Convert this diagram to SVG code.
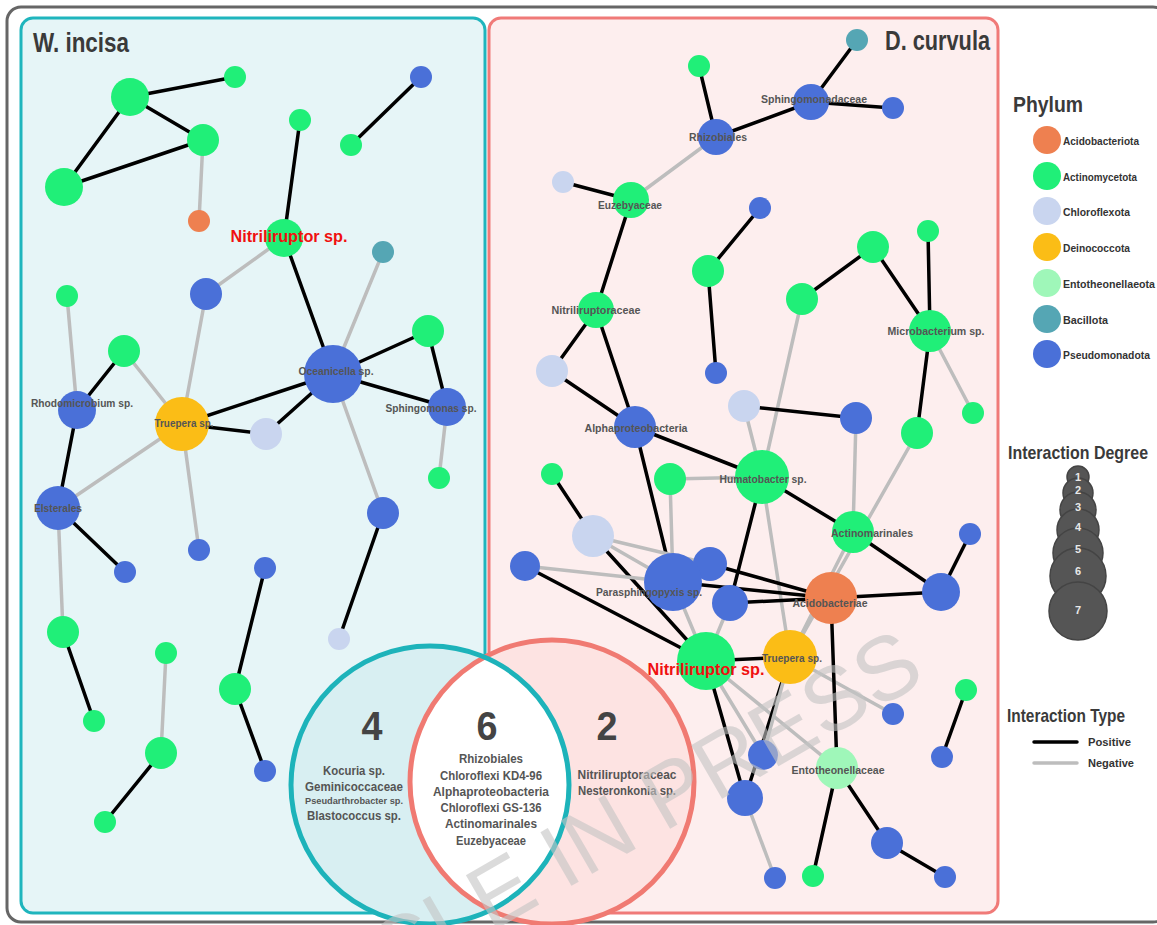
<svg xmlns="http://www.w3.org/2000/svg" width="1157" height="925" viewBox="0 0 1157 925">
<defs>
<style>
.pos{stroke:#000;stroke-width:3.5;stroke-linecap:round}
.neg{stroke:#bdbdbd;stroke-width:3.5;stroke-linecap:round}
.G{fill:#20ef78}.B{fill:#4a70d8}.O{fill:#ee8050}.Y{fill:#fbbd16}.C{fill:#c9d5ef}.E{fill:#9ff7b9}.T{fill:#55a6b4}
text{font-family:"Liberation Sans Narrow","Liberation Sans",Arial,sans-serif;font-weight:bold}
.lbl{font-size:11px;fill:#555;text-anchor:middle;dominant-baseline:central}
.red{font-size:16px;fill:#f01010;text-anchor:middle;dominant-baseline:central}
.title{font-size:28px;fill:#3a3a3a}
.leg{font-size:10.5px;fill:#333;dominant-baseline:central}
.head{font-size:19px;fill:#3a3a3a}
.num{font-size:40px;fill:#444;text-anchor:middle}
.vt{font-size:12.5px;fill:#555;text-anchor:middle;dominant-baseline:central}
.deg{fill:#555;stroke:#444;stroke-width:1.5}
.dn{font-size:11px;fill:#e8e8e8;text-anchor:middle;dominant-baseline:central}
.wm{font-family:"Liberation Sans",Arial,sans-serif;font-weight:normal;font-size:90px;fill:#c4c4c4;opacity:0.6}
</style>
<clipPath id="tealClip"><circle cx="430" cy="785" r="139"/></clipPath>
</defs>
<rect x="7" y="7" width="1160" height="915" rx="14" fill="#fff" stroke="#666" stroke-width="3"/>
<rect id="panel-w" x="21" y="18" width="464" height="895" rx="12" fill="#e6f5f7" stroke="#1fb5bd" stroke-width="3"/>
<rect id="panel-d" x="489" y="18" width="509" height="895" rx="12" fill="#fdeeee" stroke="#f07a78" stroke-width="3"/>
<text class="title" x="33" y="52" textLength="96" lengthAdjust="spacingAndGlyphs">W. incisa</text>
<text class="title" x="990" y="50" text-anchor="end" textLength="105" lengthAdjust="spacingAndGlyphs">D. curvula</text>

<g id="connectors">
<line class="pos" x1="130" y1="97" x2="235" y2="77"/>
<line class="pos" x1="130" y1="97" x2="203" y2="140"/>
<line class="pos" x1="130" y1="97" x2="64" y2="187"/>
<line class="pos" x1="203" y1="140" x2="64" y2="187"/>
<line class="neg" x1="203" y1="140" x2="199" y2="221"/>
<line class="pos" x1="300" y1="120" x2="284" y2="238"/>
<line class="pos" x1="351" y1="145" x2="421" y2="77"/>
<line class="pos" x1="284" y1="238" x2="333" y2="374"/>
<line class="neg" x1="284" y1="238" x2="206" y2="294"/>
<line class="neg" x1="383" y1="252" x2="333" y2="374"/>
<line class="pos" x1="333" y1="374" x2="428" y2="331"/>
<line class="pos" x1="333" y1="374" x2="447" y2="407"/>
<line class="pos" x1="428" y1="331" x2="447" y2="407"/>
<line class="neg" x1="447" y1="407" x2="439" y2="478"/>
<line class="pos" x1="333" y1="374" x2="182" y2="424"/>
<line class="pos" x1="333" y1="374" x2="266" y2="434"/>
<line class="pos" x1="182" y1="424" x2="266" y2="434"/>
<line class="neg" x1="333" y1="374" x2="383" y2="513"/>
<line class="pos" x1="383" y1="513" x2="339" y2="639"/>
<line class="neg" x1="182" y1="424" x2="206" y2="294"/>
<line class="neg" x1="182" y1="424" x2="124" y2="351"/>
<line class="neg" x1="182" y1="424" x2="58" y2="508"/>
<line class="neg" x1="182" y1="424" x2="199" y2="550"/>
<line class="pos" x1="77" y1="410" x2="124" y2="351"/>
<line class="neg" x1="77" y1="410" x2="67" y2="296"/>
<line class="pos" x1="77" y1="410" x2="58" y2="508"/>
<line class="pos" x1="58" y1="508" x2="125" y2="572"/>
<line class="neg" x1="58" y1="508" x2="63" y2="632"/>
<line class="pos" x1="63" y1="632" x2="94" y2="721"/>
<line class="neg" x1="166" y1="653" x2="161" y2="753"/>
<line class="pos" x1="161" y1="753" x2="105" y2="822"/>
<line class="pos" x1="265" y1="568" x2="235" y2="689"/>
<line class="pos" x1="235" y1="689" x2="265" y2="771"/>

<line class="pos" x1="857" y1="40" x2="811" y2="102"/>
<line class="pos" x1="811" y1="102" x2="893" y2="108"/>
<line class="pos" x1="811" y1="102" x2="716" y2="137"/>
<line class="pos" x1="716" y1="137" x2="699" y2="66"/>
<line class="neg" x1="716" y1="137" x2="631" y2="200"/>
<line class="pos" x1="631" y1="200" x2="563" y2="182"/>
<line class="pos" x1="631" y1="200" x2="596" y2="310"/>
<line class="pos" x1="760" y1="208" x2="708" y2="271"/>
<line class="pos" x1="708" y1="271" x2="716" y2="373"/>
<line class="pos" x1="873" y1="247" x2="802" y2="299"/>
<line class="pos" x1="873" y1="247" x2="930" y2="331"/>
<line class="pos" x1="928" y1="231" x2="930" y2="331"/>
<line class="pos" x1="930" y1="331" x2="917" y2="433"/>
<line class="neg" x1="930" y1="331" x2="973" y2="413"/>
<line class="neg" x1="802" y1="299" x2="762" y2="477"/>
<line class="pos" x1="596" y1="310" x2="552" y2="371"/>
<line class="pos" x1="596" y1="310" x2="635" y2="427"/>
<line class="pos" x1="552" y1="371" x2="635" y2="427"/>
<line class="pos" x1="635" y1="427" x2="762" y2="477"/>
<line class="pos" x1="635" y1="427" x2="673" y2="582"/>
<line class="pos" x1="744" y1="406" x2="856" y2="418"/>
<line class="neg" x1="744" y1="406" x2="762" y2="477"/>
<line class="neg" x1="670" y1="479" x2="762" y2="477"/>
<line class="neg" x1="670" y1="479" x2="673" y2="582"/>
<line class="pos" x1="762" y1="477" x2="853" y2="532"/>
<line class="pos" x1="762" y1="477" x2="730" y2="603"/>
<line class="neg" x1="762" y1="477" x2="790" y2="657"/>
<line class="neg" x1="856" y1="418" x2="853" y2="532"/>
<line class="neg" x1="917" y1="433" x2="790" y2="657"/>
<line class="neg" x1="853" y1="532" x2="790" y2="657"/>
<line class="pos" x1="853" y1="532" x2="941" y2="592"/>
<line class="pos" x1="941" y1="592" x2="970" y2="534"/>
<line class="pos" x1="831" y1="598" x2="941" y2="592"/>
<line class="pos" x1="710" y1="564" x2="831" y2="598"/>
<line class="pos" x1="673" y1="582" x2="831" y2="598"/>
<line class="pos" x1="730" y1="603" x2="831" y2="598"/>
<line class="pos" x1="552" y1="474" x2="593" y2="536"/>
<line class="neg" x1="593" y1="536" x2="673" y2="582"/>
<line class="neg" x1="593" y1="536" x2="710" y2="564"/>
<line class="pos" x1="593" y1="536" x2="706" y2="661"/>
<line class="neg" x1="525" y1="566" x2="673" y2="582"/>
<line class="pos" x1="525" y1="566" x2="706" y2="661"/>
<line class="neg" x1="673" y1="582" x2="706" y2="661"/>
<line class="neg" x1="730" y1="603" x2="706" y2="661"/>
<line class="pos" x1="706" y1="661" x2="790" y2="657"/>
<line class="pos" x1="706" y1="661" x2="745" y2="798"/>
<line class="neg" x1="706" y1="661" x2="763" y2="755"/>
<line class="neg" x1="706" y1="661" x2="837" y2="768"/>
<line class="pos" x1="790" y1="657" x2="745" y2="798"/>
<line class="neg" x1="790" y1="657" x2="763" y2="755"/>
<line class="neg" x1="790" y1="657" x2="893" y2="714"/>
<line class="neg" x1="745" y1="798" x2="775" y2="878"/>
<line class="pos" x1="831" y1="598" x2="837" y2="768"/>
<line class="pos" x1="837" y1="768" x2="813" y2="876"/>
<line class="pos" x1="837" y1="768" x2="887" y2="843"/>
<line class="pos" x1="887" y1="843" x2="945" y2="877"/>
<line class="pos" x1="966" y1="690" x2="942" y2="757"/>
</g>

<g id="w1"><circle class="G" cx="130" cy="97" r="19"/></g>
<g id="w2"><circle class="G" cx="235" cy="77" r="11"/></g>
<g id="w3"><circle class="G" cx="203" cy="140" r="16"/></g>
<g id="w4"><circle class="G" cx="64" cy="187" r="19"/></g>
<g id="w5"><circle class="O" cx="199" cy="221" r="11"/></g>
<g id="w6"><circle class="G" cx="300" cy="120" r="11"/></g>
<g id="w7"><circle class="G" cx="351" cy="145" r="11"/></g>
<g id="w8"><circle class="B" cx="421" cy="77" r="11"/></g>
<g id="w10"><circle class="T" cx="383" cy="252" r="11"/></g>
<g id="w11"><circle class="B" cx="206" cy="294" r="16"/></g>
<g id="w12"><circle class="G" cx="67" cy="296" r="11"/></g>
<g id="w13"><circle class="G" cx="124" cy="351" r="16"/></g>
<g id="w16"><circle class="C" cx="266" cy="434" r="16"/></g>
<g id="w18"><circle class="G" cx="428" cy="331" r="16"/></g>
<g id="w20"><circle class="G" cx="439" cy="478" r="11"/></g>
<g id="w22"><circle class="B" cx="199" cy="550" r="11"/></g>
<g id="w23"><circle class="B" cx="125" cy="572" r="11"/></g>
<g id="w24"><circle class="B" cx="265" cy="568" r="11"/></g>
<g id="w25"><circle class="B" cx="383" cy="513" r="16"/></g>
<g id="w26"><circle class="G" cx="63" cy="632" r="16"/></g>
<g id="w27"><circle class="G" cx="94" cy="721" r="11"/></g>
<g id="w28"><circle class="G" cx="166" cy="653" r="11"/></g>
<g id="w29"><circle class="G" cx="161" cy="753" r="16"/></g>
<g id="w30"><circle class="G" cx="105" cy="822" r="11"/></g>
<g id="w31"><circle class="G" cx="235" cy="689" r="16"/></g>
<g id="w32"><circle class="B" cx="265" cy="771" r="11"/></g>
<g id="w33"><circle class="C" cx="339" cy="639" r="11"/></g>
<g id="w14"><circle class="B" cx="77" cy="410" r="19"/><text class="lbl" x="82" y="403" textLength="102" lengthAdjust="spacingAndGlyphs">Rhodomicrobium sp.</text></g>
<g id="w15"><circle class="Y" cx="182" cy="424" r="27"/><text class="lbl" x="184" y="423" textLength="59" lengthAdjust="spacingAndGlyphs">Truepera sp.</text></g>
<g id="w17"><circle class="B" cx="333" cy="374" r="29"/><text class="lbl" x="336" y="371" textLength="75" lengthAdjust="spacingAndGlyphs">Oceanicella sp.</text></g>
<g id="w19"><circle class="B" cx="447" cy="407" r="19"/><text class="lbl" x="431" y="408" textLength="91" lengthAdjust="spacingAndGlyphs">Sphingomonas sp.</text></g>
<g id="w21"><circle class="B" cx="58" cy="508" r="22"/><text class="lbl" x="58" y="508" textLength="48" lengthAdjust="spacingAndGlyphs">Elsterales</text></g>
<g id="w9"><circle class="G" cx="284" cy="238" r="19"/><text class="red" x="289" y="236" textLength="117" lengthAdjust="spacingAndGlyphs">Nitriliruptor sp.</text></g>

<g id="d1"><circle class="T" cx="857" cy="40" r="11"/></g>
<g id="d3"><circle class="B" cx="893" cy="108" r="11"/></g>
<g id="d4"><circle class="G" cx="699" cy="66" r="11"/></g>
<g id="d6"><circle class="C" cx="563" cy="182" r="11"/></g>
<g id="d8"><circle class="B" cx="760" cy="208" r="11"/></g>
<g id="d9"><circle class="G" cx="708" cy="271" r="16"/></g>
<g id="d10"><circle class="G" cx="873" cy="247" r="16"/></g>
<g id="d11"><circle class="G" cx="928" cy="231" r="11"/></g>
<g id="d12"><circle class="G" cx="802" cy="299" r="16"/></g>
<g id="d14"><circle class="B" cx="716" cy="373" r="11"/></g>
<g id="d16"><circle class="C" cx="552" cy="371" r="16"/></g>
<g id="d17"><circle class="C" cx="744" cy="406" r="16"/></g>
<g id="d18"><circle class="B" cx="856" cy="418" r="16"/></g>
<g id="d19"><circle class="G" cx="973" cy="413" r="11"/></g>
<g id="d20"><circle class="G" cx="917" cy="433" r="16"/></g>
<g id="d23"><circle class="G" cx="670" cy="479" r="16"/></g>
<g id="d24"><circle class="G" cx="552" cy="474" r="11"/></g>
<g id="d26"><circle class="B" cx="970" cy="534" r="11"/></g>
<g id="d27"><circle class="C" cx="593" cy="536" r="21"/></g>
<g id="d28"><circle class="B" cx="525" cy="566" r="15"/></g>
<g id="d33"><circle class="B" cx="941" cy="592" r="19"/></g>
<g id="d36"><circle class="B" cx="893" cy="714" r="11"/></g>
<g id="d37"><circle class="G" cx="966" cy="690" r="11"/></g>
<g id="d38"><circle class="B" cx="942" cy="757" r="11"/></g>
<g id="d39"><circle class="B" cx="763" cy="755" r="15"/></g>
<g id="d40"><circle class="B" cx="745" cy="798" r="18"/></g>
<g id="d42"><circle class="B" cx="887" cy="843" r="16"/></g>
<g id="d43"><circle class="B" cx="945" cy="877" r="11"/></g>
<g id="d44"><circle class="G" cx="813" cy="876" r="11"/></g>
<g id="d45"><circle class="B" cx="775" cy="878" r="11"/></g>
<g id="d2"><circle class="B" cx="811" cy="102" r="18"/><text class="lbl" x="814" y="99" textLength="106" lengthAdjust="spacingAndGlyphs">Sphingomonadaceae</text></g>
<g id="d5"><circle class="B" cx="716" cy="137" r="18"/><text class="lbl" x="718" y="137" textLength="58" lengthAdjust="spacingAndGlyphs">Rhizobiales</text></g>
<g id="d7"><circle class="G" cx="631" cy="200" r="18"/><text class="lbl" x="630" y="205" textLength="64" lengthAdjust="spacingAndGlyphs">Euzebyaceae</text></g>
<g id="d13"><circle class="G" cx="596" cy="310" r="18"/><text class="lbl" x="596" y="310" textLength="89" lengthAdjust="spacingAndGlyphs">Nitriliruptoraceae</text></g>
<g id="d15"><circle class="G" cx="930" cy="331" r="21"/><text class="lbl" x="936" y="331" textLength="97" lengthAdjust="spacingAndGlyphs">Microbacterium sp.</text></g>
<g id="d21"><circle class="B" cx="635" cy="427" r="21"/><text class="lbl" x="636" y="428" textLength="103" lengthAdjust="spacingAndGlyphs">Alphaproteobacteria</text></g>
<g id="d22"><circle class="G" cx="762" cy="477" r="27"/><text class="lbl" x="763" y="479" textLength="87" lengthAdjust="spacingAndGlyphs">Humatobacter sp.</text></g>
<g id="d25"><circle class="G" cx="853" cy="532" r="21"/><text class="lbl" x="872" y="533" textLength="82" lengthAdjust="spacingAndGlyphs">Actinomarinales</text></g>
<g id="d30"><circle class="B" cx="710" cy="564" r="17"/></g>
<g id="d29"><circle class="B" cx="673" cy="582" r="29"/><text class="lbl" x="649" y="592" textLength="106" lengthAdjust="spacingAndGlyphs">Parasphingopyxis sp.</text></g>
<g id="d31"><circle class="B" cx="730" cy="603" r="18"/></g>
<g id="d32"><circle class="O" cx="831" cy="598" r="26"/><text class="lbl" x="830" y="603" textLength="75" lengthAdjust="spacingAndGlyphs">Acidobacteriae</text></g>
<g id="d35"><circle class="Y" cx="790" cy="657" r="27"/><text class="lbl" x="792" y="658" textLength="60" lengthAdjust="spacingAndGlyphs">Truepera sp.</text></g>
<g id="d41"><circle class="E" cx="837" cy="768" r="21"/><text class="lbl" x="838" y="770" textLength="93" lengthAdjust="spacingAndGlyphs">Entotheonellaceae</text></g>
<g id="d34"><circle class="G" cx="706" cy="661" r="29"/><text class="red" x="706" y="669" textLength="117" lengthAdjust="spacingAndGlyphs">Nitriliruptor sp.</text></g>

<g id="venn">
<circle cx="430" cy="785" r="139" fill="#d8eff2"/>
<circle cx="552" cy="782" r="142" fill="#fde3e2"/>
<circle cx="552" cy="782" r="142" fill="#fff" clip-path="url(#tealClip)"/>
<circle cx="552" cy="782" r="142" fill="none" stroke="#f07a72" stroke-width="5"/>
<circle cx="430" cy="785" r="139" fill="none" stroke="#1db3ba" stroke-width="5"/>
<text class="num" x="372" y="740" textLength="21" lengthAdjust="spacingAndGlyphs">4</text>
<text class="num" x="487" y="740" textLength="21" lengthAdjust="spacingAndGlyphs">6</text>
<text class="num" x="607" y="740" textLength="21" lengthAdjust="spacingAndGlyphs">2</text>
<text class="vt" x="354" y="771" textLength="62" lengthAdjust="spacingAndGlyphs">Kocuria sp.</text>
<text class="vt" x="354" y="787" textLength="98" lengthAdjust="spacingAndGlyphs">Geminicoccaceae</text>
<text class="vt" x="354" y="801" style="font-size:9px" textLength="98" lengthAdjust="spacingAndGlyphs">Pseudarthrobacter sp.</text>
<text class="vt" x="354" y="816" textLength="94" lengthAdjust="spacingAndGlyphs">Blastococcus sp.</text>
<text class="vt" x="491" y="759" textLength="64" lengthAdjust="spacingAndGlyphs">Rhizobiales</text>
<text class="vt" x="491" y="776" textLength="102" lengthAdjust="spacingAndGlyphs">Chloroflexi KD4-96</text>
<text class="vt" x="491" y="792" textLength="116" lengthAdjust="spacingAndGlyphs">Alphaproteobacteria</text>
<text class="vt" x="491" y="808" textLength="101" lengthAdjust="spacingAndGlyphs">Chloroflexi GS-136</text>
<text class="vt" x="491" y="824" textLength="92" lengthAdjust="spacingAndGlyphs">Actinomarinales</text>
<text class="vt" x="491" y="841" textLength="70" lengthAdjust="spacingAndGlyphs">Euzebyaceae</text>
<text class="vt" x="627" y="775" textLength="99" lengthAdjust="spacingAndGlyphs">Nitriliruptoraceac</text>
<text class="vt" x="627" y="791" textLength="98" lengthAdjust="spacingAndGlyphs">Nesteronkonia sp.</text>
</g>

<g id="legend">
<text class="head" x="1013" y="112" style="font-size:22px" textLength="70" lengthAdjust="spacingAndGlyphs">Phylum</text>
<circle class="O" cx="1047" cy="140" r="14"/><text class="leg" x="1063" y="141" textLength="76" lengthAdjust="spacingAndGlyphs">Acidobacteriota</text>
<circle class="G" cx="1047" cy="176" r="14"/><text class="leg" x="1063" y="177" textLength="74" lengthAdjust="spacingAndGlyphs">Actinomycetota</text>
<circle class="C" cx="1047" cy="211" r="14"/><text class="leg" x="1063" y="212" textLength="67" lengthAdjust="spacingAndGlyphs">Chloroflexota</text>
<circle class="Y" cx="1047" cy="247" r="14"/><text class="leg" x="1063" y="248" textLength="67" lengthAdjust="spacingAndGlyphs">Deinococcota</text>
<circle class="E" cx="1047" cy="283" r="14"/><text class="leg" x="1063" y="284" textLength="92" lengthAdjust="spacingAndGlyphs">Entotheonellaeota</text>
<circle class="T" cx="1047" cy="319" r="14"/><text class="leg" x="1063" y="320" textLength="45" lengthAdjust="spacingAndGlyphs">Bacillota</text>
<circle class="B" cx="1047" cy="354" r="14"/><text class="leg" x="1063" y="355" textLength="87" lengthAdjust="spacingAndGlyphs">Pseudomonadota</text>
<text class="head" x="1008" y="459" textLength="140" lengthAdjust="spacingAndGlyphs">Interaction Degree</text>
<circle class="deg" cx="1078" cy="477" r="11"/>
<circle class="deg" cx="1078" cy="493" r="15"/>
<circle class="deg" cx="1078" cy="510" r="18"/>
<circle class="deg" cx="1078" cy="530" r="21"/>
<circle class="deg" cx="1078" cy="553" r="25"/>
<circle class="deg" cx="1078" cy="576" r="28"/>
<circle class="deg" cx="1078" cy="611" r="29"/>
<text class="dn" x="1078" y="477">1</text>
<text class="dn" x="1078" y="490">2</text>
<text class="dn" x="1078" y="507">3</text>
<text class="dn" x="1078" y="527">4</text>
<text class="dn" x="1078" y="549">5</text>
<text class="dn" x="1078" y="571">6</text>
<text class="dn" x="1078" y="610">7</text>
<text class="head" x="1007" y="722" textLength="118" lengthAdjust="spacingAndGlyphs">Interaction Type</text>
<line class="pos" x1="1034" y1="742" x2="1077" y2="742"/>
<line class="neg" x1="1034" y1="763" x2="1077" y2="763"/>
<text class="leg" x="1088" y="742" textLength="43" lengthAdjust="spacingAndGlyphs">Positive</text>
<text class="leg" x="1088" y="763" textLength="46" lengthAdjust="spacingAndGlyphs">Negative</text>
</g>

<text class="wm" x="928" y="680" text-anchor="end" transform="rotate(-30 928 680)">ARTICLE IN PRESS</text>
</svg>
